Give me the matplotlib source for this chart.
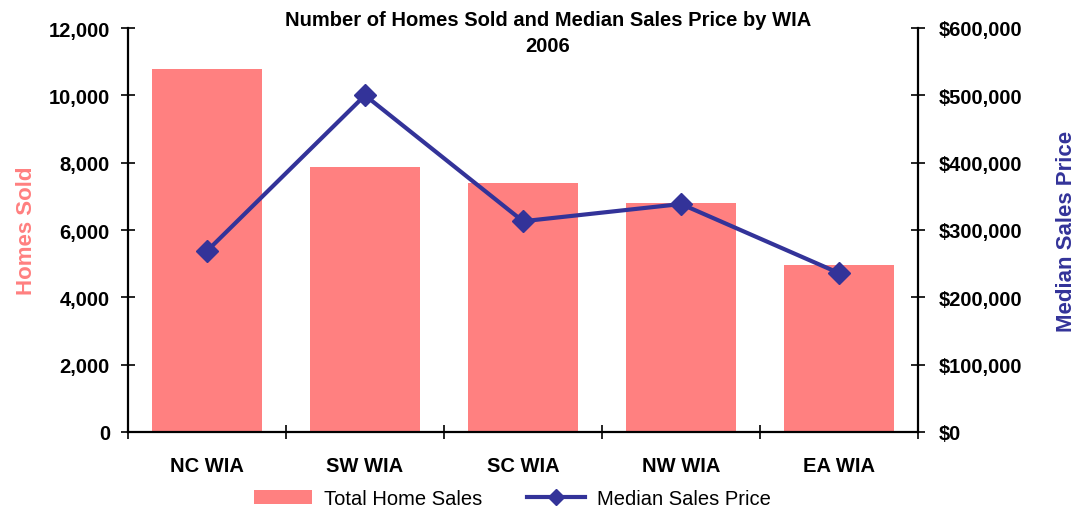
import matplotlib
matplotlib.use("Agg")
import matplotlib.pyplot as plt
from matplotlib.ticker import FuncFormatter

categories = ["NC WIA", "SW WIA", "SC WIA", "NW WIA", "EA WIA"]
homesSold = [10780, 7870, 7400, 6800, 4960]
medianPrice = [268800, 500000, 313000, 338600, 236000]

barColor = "#FF8080"
lineColor = "#333399"
fam = ["Liberation Sans", "DejaVu Sans"]

fig = plt.figure(figsize=(10.88, 5.10), dpi=100)
ax1 = fig.add_axes([128/1088, 77/510, 790/1088, 404/510])
ax2 = ax1.twinx()

x = list(range(len(categories)))
bars = ax1.bar(x, homesSold, width=0.7, color=barColor, label="Total Home Sales", zorder=2)
line, = ax2.plot(x, medianPrice, color=lineColor, lw=3, marker="D", markersize=11,
                 label="Median Sales Price", zorder=3)

ax1.set_xlim(-0.5, len(categories) - 0.5)
ax1.set_ylim(0, 12000)
ax2.set_ylim(0, 600000)
ax1.set_yticks(range(0, 12001, 2000))
ax2.set_yticks(range(0, 600001, 100000))
ax1.yaxis.set_major_formatter(FuncFormatter(lambda v, p: f"{int(v):,}"))
ax2.yaxis.set_major_formatter(FuncFormatter(lambda v, p: f"${int(v):,}"))

# category labels centred, ticks on the boundaries
ax1.set_xticks([i + 0.5 for i in range(-1, len(categories))])
ax1.set_xticklabels([])
ax1.set_xticks(x, minor=True)
ax1.set_xticklabels(categories, minor=True)
ax1.tick_params(axis="x", which="minor", length=0, pad=17)
ax1.tick_params(axis="x", which="major", direction="inout", length=10, width=1.2)
ax1.tick_params(axis="y", direction="inout", length=10, width=1.2, pad=8)
ax2.tick_params(axis="y", direction="inout", length=10, width=1.2, pad=10)

for ax in (ax1, ax2):
    ax.spines["top"].set_visible(False)
    for s in ("left", "right", "bottom"):
        ax.spines[s].set_linewidth(1.6)
ax2.spines["left"].set_visible(False)
ax2.spines["bottom"].set_visible(False)
ax1.spines["right"].set_visible(False)

for lab in ax1.get_yticklabels() + ax2.get_yticklabels() + ax1.get_xticklabels(minor=True):
    lab.set_family(fam)
    lab.set_fontweight("bold")
    lab.set_fontsize(14.5)

ax1.set_ylabel("Homes Sold", color=barColor, fontsize=16, fontweight="bold",
               family=fam, labelpad=8)
ax2.set_ylabel("Median Sales Price", color=lineColor, fontsize=16, fontweight="bold",
               family=fam, labelpad=24)

fig.text(0.5035, 0.935, "Number of Homes Sold and Median Sales Price by WIA\n2006",
         ha="center", va="center", fontsize=14.5, fontweight="bold",
         family=fam, linespacing=1.45)

fig.legend([bars, line], ["Total Home Sales", "Median Sales Price"], loc="center",
           bbox_to_anchor=(0.471, 0.02), ncol=2, frameon=False, handlelength=2.9,
           handletextpad=0.6, columnspacing=2.2, markerscale=0.7,
           prop={"family": fam, "size": 14.5})

fig.savefig("out.png", dpi=100)
